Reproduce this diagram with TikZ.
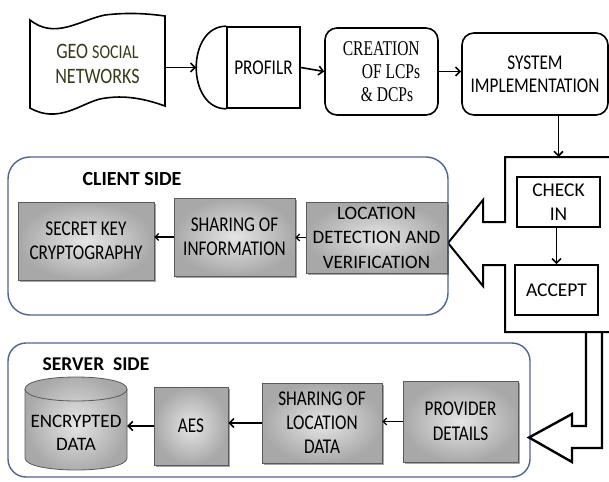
\documentclass[tikz,border=0pt]{standalone}
\usepackage{fontspec}
\setmainfont{Carlito}
\newfontfamily\gfont[FakeStretch=0.82]{Carlito}
\newfontfamily\cfont{Carlito}
\newfontfamily\tfont[FakeStretch=0.74]{Liberation Serif}
\usetikzlibrary{arrows.meta,shadows,calc}
\definecolor{framecol}{RGB}{79,98,148}
\definecolor{geocol}{RGB}{50,60,25}
\definecolor{boxedge}{RGB}{90,90,90}
\begin{document}
\begin{tikzpicture}[x=1pt,y=-1pt,
  fs/.style={font=#1\fontsize{21}{24.5}\selectfont},
  blk/.style={draw=black,line width=1.6pt,fill=white,align=center,inner sep=0pt},
  gbox/.style={draw=boxedge,line width=0.6pt,inner color=gray!20,outer color=gray!68,
     drop shadow={shadow xshift=2pt,shadow yshift=-2pt,opacity=0.35,fill=black},
     align=center,inner sep=0pt},
  arr/.style={-{Straight Barb[length=4.5pt,width=9pt]},line width=1.6pt},
  sarr/.style={-{Straight Barb[length=3.5pt,width=7pt]},line width=1.3pt},
  sidebox/.style={draw=framecol,line width=1.4pt,rounded corners=22pt},
  cylfill/.style={draw=boxedge,line width=0.8pt,inner color=gray!20,outer color=gray!68}]
\useasboundingbox (0,0) rectangle (609,481);

% ---------- top row ----------
\draw[line width=1.6pt] (30,20) .. controls (55,40) and (80,20) .. (105,15)
   .. controls (130,12) and (150,14) .. (165,16) -- (165,106)
   .. controls (140,97) and (120,95) .. (100,99)
   .. controls (80,104) and (58,124) .. (30,108) -- cycle;
\node[font=\gfont\fontsize{22}{24.5}\selectfont,text=geocol,minimum width=135pt,align=center,inner sep=0pt] (geo) at (97.5,64)
   {GEO {\fontsize{19.5}{24.5}\selectfont SOCIAL}\\NETWORKS};

\node[blk,minimum width=73pt,minimum height=81pt,fs=\gfont] (profilr) at (263.5,67.5) {PROFILR};
\draw[line width=1.6pt] (profilr.north west) .. controls +(-40,0) and +(-40,0) .. (profilr.south west);
\coordinate (profilrtip) at ([xshift=-30pt]profilr.west);

\node[blk,rounded corners=12pt,minimum width=113pt,minimum height=87pt,
      font=\tfont\fontsize{21}{23}\selectfont,align=left] (creation) at (381.5,71.5)
   {CREATION\\\hspace*{19pt}OF LCPs\\\hspace*{18pt}\& DCPs};

\node[blk,rounded corners=12pt,minimum width=146pt,minimum height=82pt,
      font=\gfont\fontsize{21}{23}\selectfont] (system) at (535,74) {SYSTEM\\IMPLEMENTATION};

\draw[arr] (geo.east |- profilr.west) -- (profilrtip);
\draw[arr] (profilr.east) -- (creation.west);
\draw[arr] (creation.east) -- (creation.east -| system.west);

% ---------- right frame with check in / accept ----------
\node[blk,minimum width=83pt,minimum height=50pt,font=\cfont\fontsize{19.5}{24}\selectfont] (checkin) at (558.5,202) {CHECK\\IN};
\node[blk,minimum width=83pt,minimum height=50pt,font=\cfont\fontsize{19.5}{24}\selectfont] (accept) at (556.5,290) {ACCEPT};
\coordinate (ftop) at (558,157);
\draw[line width=2pt] (615,157) -- (505,157) -- (505,222) -- (483,222) -- (483,200)
   -- (448,243) -- (483,286) -- (483,265) -- (505,265) -- (505,332) -- (615,332);
\draw[arr] (checkin.north |- system.south) -- (checkin.north |- ftop);
\draw[arr] (accept.north |- checkin.south) -- (accept.north);

% ---------- client side ----------
\draw[sidebox] (8,157) rectangle (448,315);
\node[font=\cfont\bfseries\fontsize{20}{24}\selectfont,inner sep=0pt] (clientlbl) at (132,179) {CLIENT SIDE};
\node[gbox,minimum width=136pt,minimum height=78pt,fs=\gfont] (secret) at (86,241) {SECRET KEY\\CRYPTOGRAPHY};
\node[gbox,minimum width=121pt,minimum height=78pt,fs=\gfont] (sharinfo) at (234.5,237) {SHARING OF\\INFORMATION};
\node[gbox,minimum width=141pt,minimum height=71pt,font=\cfont\fontsize{19}{24.5}\selectfont] (locdet) at (376.5,237.5)
   {LOCATION\\DETECTION AND\\VERIFICATION};
\draw[sarr] (locdet.west) -- (locdet.west -| sharinfo.east);
\draw[sarr] (sharinfo.west) -- (sharinfo.west -| secret.east);

% ---------- server side ----------
\draw[sidebox,rounded corners=18pt] (8,343) rectangle (530,477);
\node[font=\cfont\bfseries\fontsize{19.5}{24}\selectfont,inner sep=0pt] (serverlbl) at (96,364) {SERVER\ \ SIDE};
\path[cylfill] (25,389) -- (25,458) .. controls (25,474) and (127,474) .. (127,458)
   -- (127,389) .. controls (127,373) and (25,373) .. (25,389) -- cycle;
\draw[draw=boxedge,line width=0.8pt] (25,389) .. controls (25,405) and (127,405) .. (127,389);
\node[font=\cfont\fontsize{19}{23.5}\selectfont,minimum width=102pt,align=center,inner sep=0pt] (enc) at (76,433) {ENCRYPTED\\DATA};
\node[gbox,minimum width=74pt,minimum height=78pt,fs=\gfont] (aes) at (191,426) {AES};
\node[gbox,minimum width=120pt,minimum height=80pt,font=\gfont\fontsize{21}{24}\selectfont] (sharloc) at (322,423) {SHARING OF\\LOCATION\\DATA};
\node[gbox,minimum width=115pt,minimum height=81pt,fs=\gfont] (provider) at (460.5,421.5) {PROVIDER\\DETAILS};
\draw[sarr] (provider.west) -- (provider.west -| sharloc.east);
\draw[arr] (sharloc.west) -- (sharloc.west -| aes.east);
\draw[arr] (aes.west) -- (aes.west -| enc.east);

\draw[line width=2.4pt] (586,332) -- (586,426) -- (572,426) -- (572,414) -- (529,437.5)
   -- (572,462) -- (572,448) -- (602,448) -- (602,332);
\end{tikzpicture}
\end{document}
